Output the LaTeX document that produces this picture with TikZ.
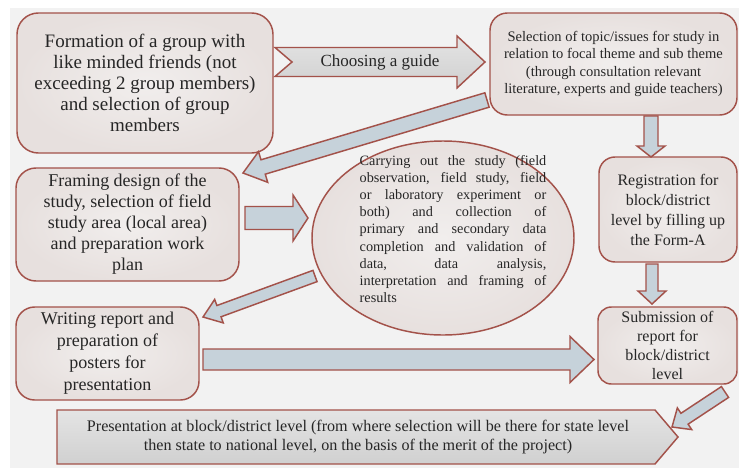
\documentclass[tikz,border=0pt]{standalone}
\usepackage{fontspec}
\setmainfont{Liberation Serif}
\usetikzlibrary{calc,shapes.geometric}
\definecolor{bg}{HTML}{F2F2F2}
\definecolor{bord}{HTML}{A3524A}
\definecolor{boxin}{HTML}{F1EEED}
\definecolor{boxout}{HTML}{E7E0DE}
\definecolor{arrfill}{HTML}{C6D2DA}
\definecolor{graytop}{HTML}{E4E4E4}
\definecolor{graybot}{HTML}{D0D0D0}
\definecolor{txt}{HTML}{262626}
\newcommand\blockarrow[7]{%
  \pgfmathsetmacro\baw{#3*0.75}\pgfmathsetmacro\bah{#4*0.75}%
  \pgfmathsetmacro\bal{#5*0.75}\pgfmathsetmacro\ban{#6*0.75}%
  \coordinate (#1-H) at ($(#2)!\bal pt!(#1)$);
  \coordinate (#1-N) at ($(#1)!\ban pt!(#2)$);
  \draw[#7] ($(#1)!\baw pt!90:(#2)$) -- ($(#1-H)!\baw pt!90:(#2)$) -- ($(#1-H)!\bah pt!90:(#2)$) -- (#2) -- ($(#1-H)!\bah pt!-90:(#2)$) -- ($(#1-H)!\baw pt!-90:(#2)$) -- ($(#1)!\baw pt!-90:(#2)$) -- (#1-N) -- cycle;
}
\newcommand\jl[1]{\makebox[140pt][s]{#1}}
\begin{document}
\begin{tikzpicture}[x=0.75pt,y=-0.75pt, text=txt,
  box/.style={draw=bord, line width=1.1pt, inner color=boxin, outer color=boxout, align=center, inner sep=0pt},
  blue arrow/.style={draw=bord, line width=1.1pt, fill=arrfill, line join=miter},
  gray arrow/.style={draw=bord, line width=1.1pt, top color=graytop, bottom color=graybot, line join=miter}
]
\useasboundingbox (0,0) rectangle (739,468);
\fill[bg] (10,8) rectangle (739,468);

% boxes
\node[box, rounded corners=16pt, minimum width=192pt, minimum height=105pt,
  font=\fontsize{14.25}{15.75}\selectfont] (form) at (145,83)
  {Formation of a group with\\like minded friends (not\\exceeding 2 group members)\\and selection of group\\members};
\node[box, rounded corners=13pt, minimum width=185.25pt, minimum height=76.5pt,
  font=\fontsize{10.9}{13.1}\selectfont] (topic) at (613.5,64)
  {Selection of topic/issues for study in\\relation to focal theme and sub theme\\(through consultation relevant\\literature, experts and guide teachers)};
\node[box, rounded corners=12pt, minimum width=103.5pt, minimum height=78.75pt,
  font=\fontsize{12}{15}\selectfont] (reg) at (668,209.5)
  {Registration for\\block/district\\level by filling up\\the Form-A};
\node[box, rounded corners=10pt, minimum width=104.25pt, minimum height=57.75pt,
  font=\fontsize{12}{14.25}\selectfont] (sub) at (667.5,345.5)
  {Submission of\\report for\\block/district\\level};
\node[box, rounded corners=15pt, minimum width=167.25pt, minimum height=84.75pt,
  font=\fontsize{13.5}{15.75}\selectfont] (frame) at (127.5,224.5)
  {Framing design of the\\study, selection of field\\study area (local area)\\and preparation work\\plan};
\node[box, rounded corners=14pt, minimum width=137.25pt, minimum height=69.75pt,
  font=\fontsize{13.5}{16.5}\selectfont] (write) at (107.5,353.5)
  {Writing report and\\preparation of\\posters for\\presentation};
\node[box, ellipse, minimum width=196.5pt, minimum height=145.5pt] (study) at (443,238) {};
\node[align=left, inner sep=0pt, font=\fontsize{10.7}{12.9}\selectfont] (studytext) at (453,229)
  {\jl{Carrying out the study (field}\\\jl{observation, field study, field}\\\jl{or laboratory experiment or}\\\jl{both) and collection of}\\\jl{primary and secondary data}\\\jl{completion and validation of}\\\jl{data, data analysis,}\\\jl{interpretation and framing of}\\results};

% final pentagon
\draw[line width=1.1pt, draw=bord, top color=graytop, bottom color=graybot, line join=miter]
  (57,410) -- (655,410) -- (678,437) -- (655,464) -- (57,464) -- cycle;
\node[align=center, inner sep=0pt, font=\fontsize{12.1}{14.25}\selectfont] (pres) at (358,437)
  {Presentation at block/district level (from where selection will be there for state level\\then state to national level, on the basis of the merit of the project)};

% arrows
\coordinate (c1s) at (275,62); \coordinate (c1t) at (485,62);
\coordinate (c2s) at (487,100); \coordinate (c2t) at (243,173);
\coordinate (c3s) at (651,116); \coordinate (c3t) at (651,157);
\coordinate (c4s) at (245,218); \coordinate (c4t) at (308,218);
\coordinate (c5s) at (652,264); \coordinate (c5t) at (652,304);
\coordinate (c6s) at (315,276); \coordinate (c6t) at (203,317);
\coordinate (c7s) at (203,359.5); \coordinate (c7t) at (594,359.5);
\coordinate (c8s) at (725,392); \coordinate (c8t) at (672,427);
\blockarrow{c1s}{c1t}{14.5}{26}{28}{17}{gray arrow}
\node[font=\fontsize{12.75}{14}\selectfont, inner sep=0pt] (choose) at (380,62) {Choosing a guide};
\blockarrow{c2s}{c2t}{7.5}{16}{21}{0}{blue arrow}
\blockarrow{c3s}{c3t}{7}{14}{11}{0}{blue arrow}
\blockarrow{c4s}{c4t}{11.5}{23}{15}{0}{blue arrow}
\blockarrow{c5s}{c5t}{6}{14}{13}{0}{blue arrow}
\blockarrow{c6s}{c6t}{6}{12.5}{17}{0}{blue arrow}
\blockarrow{c7s}{c7t}{10.5}{23}{24}{0}{blue arrow}
\blockarrow{c8s}{c8t}{6.5}{13}{15}{0}{blue arrow}
\end{tikzpicture}
\end{document}
